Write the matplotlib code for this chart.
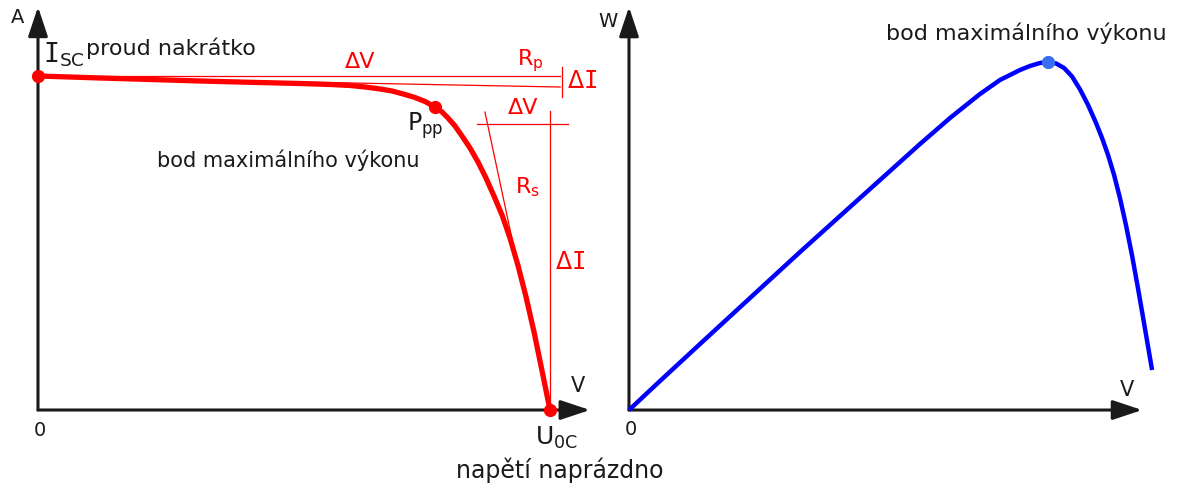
import matplotlib.pyplot as plt

plt.rcParams['font.family'] = ['DejaVu Sans']
plt.rcParams['mathtext.fontset'] = 'custom'
plt.rcParams['mathtext.rm'] = 'DejaVu Sans'
plt.rcParams['mathtext.tt'] = 'DejaVu Sans Mono'

# V-A charakteristika (napeti normovane na Uoc, proud na Isc)
iv_u = [0.0, 0.1211, 0.2188, 0.3164, 0.4141, 0.5117, 0.5703, 0.6094, 0.6387,
        0.668, 0.6914, 0.7168, 0.7363, 0.7559, 0.7754, 0.7891, 0.8008, 0.8145,
        0.8281, 0.8438, 0.8594, 0.875, 0.8906, 0.9063, 0.9219, 0.9375, 0.9531,
        0.9688, 0.9844, 1.0]
iv_i = [1.0, 0.994, 0.9895, 0.985, 0.9811, 0.9775, 0.9746, 0.9716, 0.9671,
        0.9611, 0.9551, 0.9446, 0.9356, 0.9237, 0.9072, 0.8922, 0.8743, 0.8503,
        0.8204, 0.7844, 0.7425, 0.6946, 0.6407, 0.5838, 0.515, 0.4329, 0.3395,
        0.2341, 0.118, 0.0]
mpp_u, mpp_i = 0.7754, 0.9072

# P-V charakteristika (vykon normovany na Pmax)
pv_u = [0.0, 0.0605, 0.1387, 0.2363, 0.334, 0.4316, 0.5293, 0.5684, 0.5977,
        0.627, 0.6563, 0.6855, 0.7051, 0.7246, 0.7441, 0.7637, 0.7832, 0.8027,
        0.8184, 0.834, 0.8496, 0.8652, 0.8809, 0.8965, 0.9121, 0.9238, 0.9355,
        0.9473, 0.959, 0.9707, 0.9824, 0.9941, 1.0078, 1.0215]
pv_p = [0.0, 0.0833, 0.1897, 0.3218, 0.454, 0.5833, 0.7126, 0.7644, 0.8017,
        0.8391, 0.8736, 0.908, 0.9282, 0.9483, 0.9626, 0.977, 0.9885, 0.9971,
        1.0, 0.9957, 0.9828, 0.9583, 0.921, 0.8764, 0.8247, 0.7816, 0.7328,
        0.6753, 0.6078, 0.5302, 0.444, 0.3491, 0.2328, 0.1149]
pmax_u, pmax_p = 0.8184, 1.0

RED = '#ff0000'
INK = '#1a1a1a'


def axis_arrow(ax, x0, y0, x1, y1):
    ax.annotate('', xy=(x1, y1), xytext=(x0, y0), xycoords='data',
                arrowprops=dict(arrowstyle='-|>,head_length=0.9,head_width=0.3',
                                mutation_scale=20, lw=2.2, color=INK,
                                shrinkA=0, shrinkB=0))


fig = plt.figure(figsize=(11.81, 4.88), dpi=100)

# --- levy graf: proud ---
ax1 = fig.add_axes([0, 0, 600 / 1181, 1])
ax1.set_xlim(-0.0742, 1.0977)
ax1.set_ylim(-0.2335, 1.2275)
ax1.axis('off')

axis_arrow(ax1, 0, 0, 0, 1.207)
axis_arrow(ax1, 0, 0, 1.078, 0)

# pomocne cary pro Rp a Rs
ax1.plot([0, 1.02], [1.0, 1.0], color=RED, lw=0.9)
ax1.plot([0, 1.02], [0.997, 0.967], color=RED, lw=0.9)
ax1.plot([1.023, 1.023], [1.027, 0.937], color=RED, lw=0.9)
ax1.plot([0.857, 1.035], [0.856, 0.856], color=RED, lw=0.9)
ax1.plot([1.0, 1.0], [0.895, 0.0], color=RED, lw=0.9)
ax1.plot([0.873, 0.941], [0.892, 0.404], color=RED, lw=0.9)

ax1.plot(iv_u, iv_i, color=RED, lw=3.8, solid_capstyle='round',
         solid_joinstyle='round', zorder=3)
ax1.plot([0, mpp_u, 1.0], [1.0, mpp_i, 0.0], 'o', color=RED, ms=8.5, zorder=4)

ax1.text(-0.039, 1.174, 'A', fontsize=14, color=INK, ha='center', va='center')
ax1.text(0.01, 1.039, r'$\mathtt{I}_{\mathrm{SC}}$', fontsize=19, color=INK,
         ha='left', va='baseline')
ax1.text(0.094, 1.063, 'proud nakrátko', fontsize=16, color=INK,
         ha='left', va='baseline')
ax1.text(0.629, 1.042, 'ΔV', fontsize=16, color=RED, ha='center', va='center')
ax1.text(0.961, 1.045, r'$\mathrm{R}_{\mathrm{p}}$', fontsize=16, color=RED,
         ha='center', va='center')
ax1.text(1.0625, 0.985, r'$\Delta\mathtt{I}$', fontsize=17, color=RED,
         ha='center', va='center')
ax1.text(0.947, 0.904, 'ΔV', fontsize=16, color=RED, ha='center', va='center')
ax1.text(0.756, 0.85, r'$\mathrm{P}_{\mathrm{pp}}$', fontsize=17, color=INK,
         ha='center', va='center')
ax1.text(0.488, 0.749, 'bod maximálního výkonu', fontsize=15, color=INK,
         ha='center', va='center')
ax1.text(0.957, 0.668, r'$\mathrm{R}_{\mathrm{s}}$', fontsize=16, color=RED,
         ha='center', va='center')
ax1.text(1.039, 0.443, r'$\Delta\mathtt{I}$', fontsize=17, color=RED,
         ha='center', va='center')
ax1.text(1.055, 0.072, 'V', fontsize=15, color=INK, ha='center', va='center')
ax1.text(0.004, -0.06, '0', fontsize=14, color=INK, ha='center', va='center')
ax1.text(1.012, -0.085, r'$\mathrm{U}_{\mathrm{0C}}$', fontsize=18, color=INK,
         ha='center', va='center')
ax1.text(1.02, -0.18, 'napětí naprázdno', fontsize=17, color=INK,
         ha='center', va='center', clip_on=False)

# --- pravy graf: vykon ---
ax2 = fig.add_axes([600 / 1181, 0, 581 / 1181, 1])
ax2.set_xlim(-0.0566, 1.078)
ax2.set_ylim(-0.224, 1.178)
ax2.axis('off')

axis_arrow(ax2, 0, 0, 0, 1.158)
axis_arrow(ax2, 0, 0, 1.002, 0)

ax2.plot(pv_u, pv_p, color='#0000ff', lw=3.2, solid_capstyle='butt',
         solid_joinstyle='round', zorder=3)
ax2.plot([pmax_u], [pmax_p], 'o', color='#3a6ef2', ms=8.5, zorder=4)

ax2.text(-0.041, 1.115, 'W', fontsize=14, color=INK, ha='center', va='center')
ax2.text(0.775, 1.083, 'bod maximálního výkonu', fontsize=16, color=INK,
         ha='center', va='center')
ax2.text(0.973, 0.057, 'V', fontsize=15, color=INK, ha='center', va='center')
ax2.text(0.004, -0.057, '0', fontsize=14, color=INK, ha='center', va='center')

fig.savefig('out.png', dpi=100)
